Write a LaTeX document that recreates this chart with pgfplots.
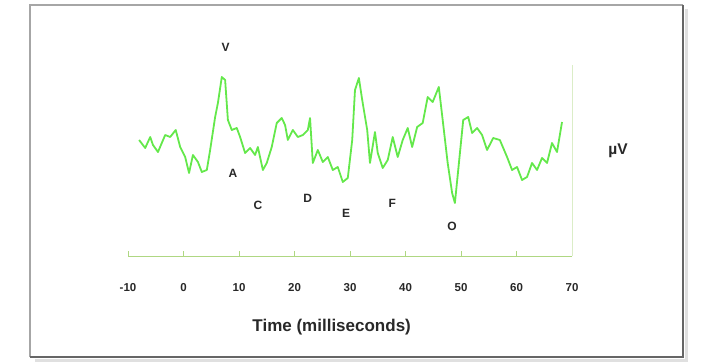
\documentclass[border=0pt]{standalone}
\usepackage{pgfplots}
\pgfplotsset{compat=1.18}
\usepackage{fontspec}
\setmainfont{Liberation Sans}
\definecolor{curvegreen}{RGB}{100,232,75}
\definecolor{axisgreen}{RGB}{175,215,130}
\definecolor{txt}{RGB}{40,40,40}
\begin{document}
\begin{tikzpicture}[x=1pt,y=1pt]
\path (0,0) rectangle (703,362);
% frame with shadow
\draw[black!12, line width=3pt] (35,2) -- (686,2) -- (686,353);
\draw[black!35, line width=1.5pt] (30,5) -- (30,357) -- (683,357);
\draw[black!60, line width=2pt] (683,357) -- (683,5) -- (30,5);
\begin{axis}[
  at={(128pt,106pt)}, anchor=south west,
  scale only axis, width=444pt, height=191pt,
  xmin=-10, xmax=70, ymin=0, ymax=191,
  axis x line*=bottom, axis y line*=right,
  x axis line style={-, draw=axisgreen, line width=1pt},
  y axis line style={-, draw=axisgreen!45, line width=0.7pt},
  ytick=\empty,
  xtick={-10,0,10,20,30,40,50,60,70},
  tick align=inside, major tick length=5pt,
  every tick/.style={axisgreen, line width=0.8pt},
  /pgf/number format/assume math mode=true,
  xticklabel style={font=\fontsize{11.5}{13}\selectfont\bfseries, text=txt, yshift=-24pt},
  clip=false,
]
\addplot[curvegreen, line width=1.8pt, line join=round] coordinates {
(-8.0,116) (-6.9,108) (-6.0,119) (-5.5,111) (-4.6,104) (-3.3,121) (-2.4,119)
(-1.4,126) (-0.6,109) (0.3,99) (1.0,83) (1.7,101) (2.6,94) (3.3,84) (4.2,86)
(4.8,106) (5.7,139) (6.2,153) (6.9,179) (7.5,176) (8.0,136) (8.7,126) (9.6,128)
(10.2,119) (11.1,103) (12.0,108) (12.9,101) (13.4,109) (14.3,86) (15.0,93)
(15.9,109) (16.8,133) (17.7,138) (18.3,131) (18.8,116) (19.7,126) (20.6,119)
(21.5,121) (22.4,126) (22.8,138) (23.3,93) (24.2,106) (25.1,94) (26.0,99)
(26.9,86) (27.8,89) (28.7,74) (29.6,78) (30.4,116) (30.9,166) (31.6,178)
(32.2,156) (33.1,126) (33.6,93) (34.5,124) (35.0,103) (35.9,88) (36.8,96)
(37.7,119) (38.6,99) (39.5,116) (40.4,128) (41.2,109) (42.1,129) (43.1,133)
(44.0,159) (44.9,154) (46.0,169) (46.7,136) (47.6,93) (48.4,63) (48.9,53)
(49.5,86) (50.4,136) (51.3,139) (52.0,123) (52.9,128) (53.8,121) (54.7,106)
(55.8,118) (57.0,116) (58.3,99) (59.2,86) (60.1,89) (61.0,76) (61.9,79)
(62.8,93) (63.7,86) (64.6,98) (65.5,93) (66.4,113) (67.3,104) (68.2,134)
};
\begin{scope}[every node/.style={font=\fontsize{12}{14}\selectfont\bfseries, text=txt}]
\node at (axis cs:7.6,209) {V};
\node at (axis cs:8.9,83) {A};
\node at (axis cs:13.4,51) {C};
\node at (axis cs:22.4,58) {D};
\node at (axis cs:29.3,43) {E};
\node at (axis cs:37.6,53) {F};
\node at (axis cs:48.4,30) {O};
\node[font=\fontsize{15.5}{17}\selectfont\bfseries] at (axis cs:78.3,105) {µV};
\node[font=\fontsize{17}{19}\selectfont\bfseries] at (axis cs:26.7,-71) {Time (milliseconds)};
\end{scope}
\end{axis}
\end{tikzpicture}
\end{document}
